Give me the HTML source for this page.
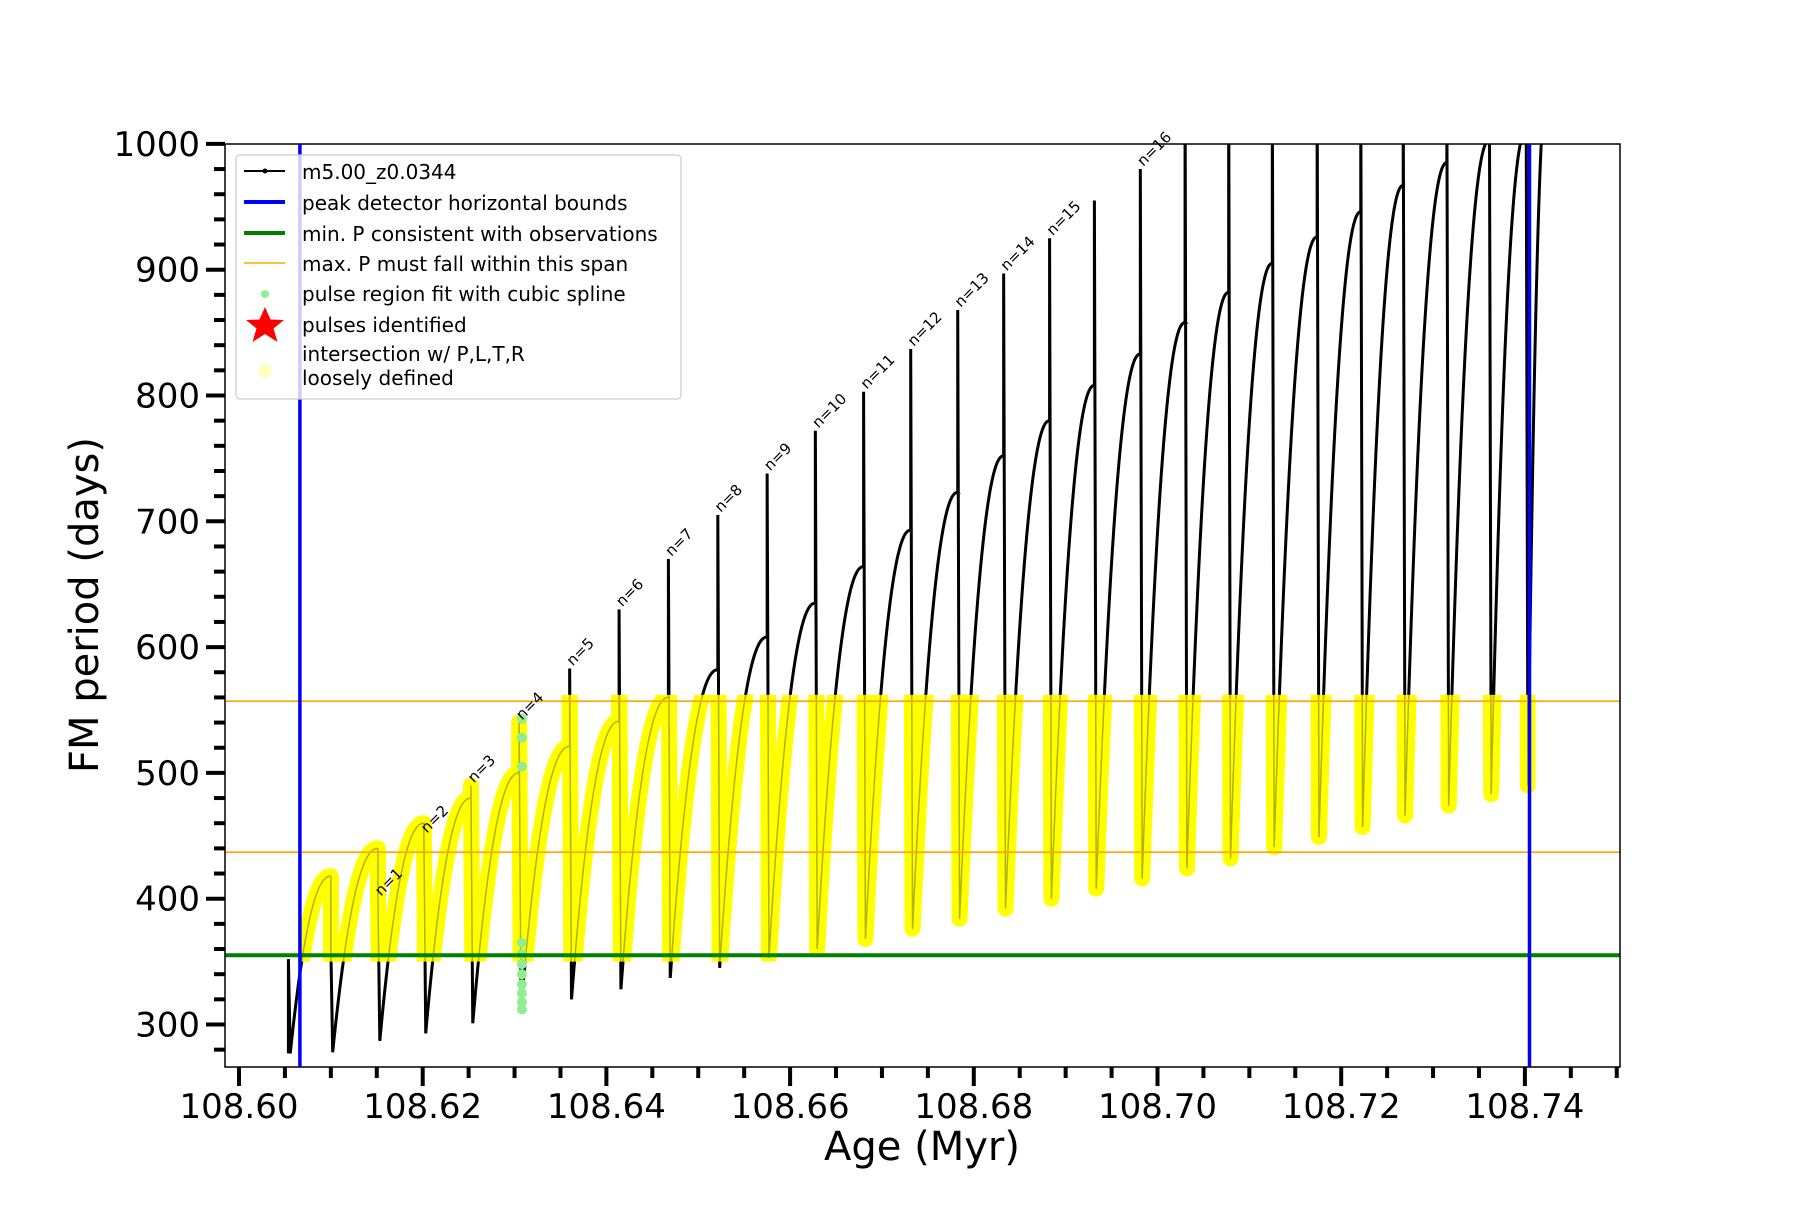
<!DOCTYPE html>
<html><head><meta charset="utf-8"><style>
body{margin:0;background:#fff}
svg text{font-family:"DejaVu Sans","Liberation Sans",sans-serif}
</style></head><body>
<svg id="chart" width="1800" height="1200" viewBox="0 0 1800 1200" xmlns="http://www.w3.org/2000/svg">
<defs>
<clipPath id="plotClip"><rect x="225" y="144" width="1395" height="923"/></clipPath>
<clipPath id="bandClip"><rect id="bandRect" x="0" y="0" width="0" height="0"/></clipPath>
</defs>
<rect x="0" y="0" width="1800" height="1200" fill="#fff"/>
<g id="plot" clip-path="url(#plotClip)"></g>
<g id="labels"></g>
<rect x="225" y="144" width="1395" height="923" fill="none" stroke="#000" stroke-width="1.5"/>
<g id="axes"></g>
<text x="922" y="1160" font-size="40" text-anchor="middle">Age (Myr)</text>
<text transform="translate(98,605) rotate(-90)" font-size="40" text-anchor="middle">FM period (days)</text>
<g id="legend">
<rect x="236" y="155" width="445" height="244" rx="4" fill="#fff" fill-opacity="0.8" stroke="#ccc" stroke-width="1.2"/>
<g><line x1="244" y1="171" x2="285" y2="171" stroke="#000" stroke-width="2"/><circle cx="265" cy="171" r="2.5"/><text x="302" y="179" font-size="20">m5.00_z0.0344</text></g>
<g><line x1="244" y1="202" x2="285" y2="202" stroke="#00f" stroke-width="4"/><text x="302" y="210" font-size="20">peak detector horizontal bounds</text></g>
<g><line x1="244" y1="233" x2="285" y2="233" stroke="#008000" stroke-width="4"/><text x="302" y="241" font-size="20">min. P consistent with observations</text></g>
<g><line x1="244" y1="263" x2="285" y2="263" stroke="orange" stroke-width="1.5"/><text x="302" y="271" font-size="20">max. P must fall within this span</text></g>
<g><circle cx="265" cy="294" r="4" fill="#90ee90"/><text x="302" y="301" font-size="20">pulse region fit with cubic spline</text></g>
<g><polygon points="265,307 270.5,319.5 284,320 273.5,328.5 277.5,342 265,334 252.5,342 256.5,328.5 246,320 259.5,319.5" fill="#f00"/><text x="302" y="332" font-size="20">pulses identified</text></g>
<g><circle cx="265" cy="371" r="7" fill="#ffff99" fill-opacity="0.6"/><text x="302" y="361" font-size="20">intersection w/ P,L,T,R</text><text x="302" y="385" font-size="20">loosely defined</text></g>
</g>
</svg>
<script>
const spikeAges=[108.60538,108.6100,108.61513,108.62013,108.62525,108.6305,108.636,108.64138,108.64675,108.65213,108.6575,108.66275,108.668,108.67313,108.67825,108.68325,108.68825,108.69313,108.69813,108.703,108.70775,108.7125,108.71738,108.72213,108.72675,108.7315,108.73613,108.74013];
const spikeTop=[352,360,400,450,490,540,583,630,670,705,738,772,803,837,868,897,925,955,980,1050,1050,1050,1050,1050,1050,1050,1050,1050];
const dipMin=[277,278,287,293,301,312,320,328,337,345,353,360,368,376,384,392,400,408,416,424,432,441,449,457,466,474,483,490];
const arcMax=[418,440,460,480,500,521,541,560,582,608,635,664,693,723,752,780,808,833,858,882,905,926,946,967,985,1003,1010,1050];
const tailEndAge=108.7425;
const xTicks=[108.60,108.62,108.64,108.66,108.68,108.70,108.72,108.74];
const yTicks=[300,400,500,600,700,800,900,1000];
const labelIdx=[2,3,4,5,6,7,8,9,10,11,12,13,14,15,16,18];
const hLines=[{v:355,c:'#008000',w:4,n:'min-p-line'},{v:557,c:'orange',w:1.6,n:'max-p-upper-line'},{v:437,c:'orange',w:1.6,n:'max-p-lower-line'}];
const vLines=[108.60663,108.7405];
const greenVals=[312,318,325,332,340,348,356,365,505,528,543];

const NS='http://www.w3.org/2000/svg';
const X=a=>239+(a-108.60)/0.02*183.7;
const Y=v=>1024.5-(v-300)*1.258;
function mk(t,attrs,parent){const e=document.createElementNS(NS,t);for(const k in attrs)e.setAttribute(k,attrs[k]);parent.appendChild(e);return e;}
const plot=document.getElementById('plot'),axes=document.getElementById('axes'),labels=document.getElementById('labels');

let d='';
for(let i=0;i<spikeAges.length;i++){
  const t0=spikeAges[i];
  const prevMax=i===0?dipMin[0]:arcMax[i-1];
  d+=(i===0?'M':'L')+X(t0)+','+Y(prevMax)+'L'+X(t0)+','+Y(spikeTop[i])+'L'+X(t0+0.0002)+','+Y(dipMin[i]);
  const t1=i+1<spikeAges.length?spikeAges[i+1]:tailEndAge;
  const ts=t0+0.0002;
  for(let k=1;k<=40;k++){const u=k/40;const v=dipMin[i]+(arcMax[i]-dipMin[i])*(1-Math.pow(1-u,2.2));d+='L'+X(ts+(t1-ts)*u).toFixed(2)+','+Y(v).toFixed(2);}
}
const blk=mk('path',{d:d,fill:'none',stroke:'#000','stroke-width':3},plot);


const br=document.getElementById('bandRect');
br.setAttribute('x',X(vLines[0]));br.setAttribute('y',Y(562));br.setAttribute('width',X(vLines[1])-X(vLines[0])+6);br.setAttribute('height',Y(350)-Y(562));
const yel=mk('path',{d:d,fill:'none',stroke:'#ffff00','stroke-width':16,'stroke-linejoin':'round','clip-path':'url(#bandClip)'},plot);


const blk2=mk('path',{d:d,fill:'none',stroke:'#000','stroke-width':1.5,'stroke-opacity':0.3,'clip-path':'url(#bandClip)'},plot);


greenVals.forEach(v=>{const c=mk('circle',{cx:X(108.6308),cy:Y(v),r:5,fill:'#90ee90'},plot);

});
hLines.forEach(h=>{const l=mk('line',{x1:225,x2:1620,y1:Y(h.v),y2:Y(h.v),stroke:h.c,'stroke-width':h.w},plot);

});
vLines.forEach(a=>{const l=mk('line',{x1:X(a),x2:X(a),y1:144,y2:1067,stroke:'#00f','stroke-width':3.5},plot);

});
labelIdx.forEach((idx,j)=>{const x=X(spikeAges[idx])+3,y=Y(Math.min(spikeTop[idx],985))-2;
const t=mk('text',{x:x,y:y,'font-size':15,transform:`rotate(-45 ${x} ${y})`},labels);t.textContent='n='+(j+1);

});
xTicks.forEach(a=>{mk('line',{x1:X(a),x2:X(a),y1:1067,y2:1086,stroke:'#000','stroke-width':4},axes);
const t=mk('text',{x:X(a),y:1118,'font-size':34,'text-anchor':'middle'},axes);t.textContent=a.toFixed(2);

});
for(let k=0;k<=30;k++){const a=108.60+k*0.005;if(k%4===0)continue;if(X(a)>1620)break;mk('line',{x1:X(a),x2:X(a),y1:1067,y2:1078,stroke:'#000','stroke-width':4},axes);}
yTicks.forEach(v=>{mk('line',{x1:206,x2:225,y1:Y(v),y2:Y(v),stroke:'#000','stroke-width':4},axes);
const t=mk('text',{x:200,y:Y(v)+12,'font-size':34,'text-anchor':'end'},axes);t.textContent=v;

});
for(let v=280;v<=1000;v+=20){if(v%100===0)continue;mk('line',{x1:214,x2:225,y1:Y(v),y2:Y(v),stroke:'#000','stroke-width':4},axes);}
</script>
</body></html>
